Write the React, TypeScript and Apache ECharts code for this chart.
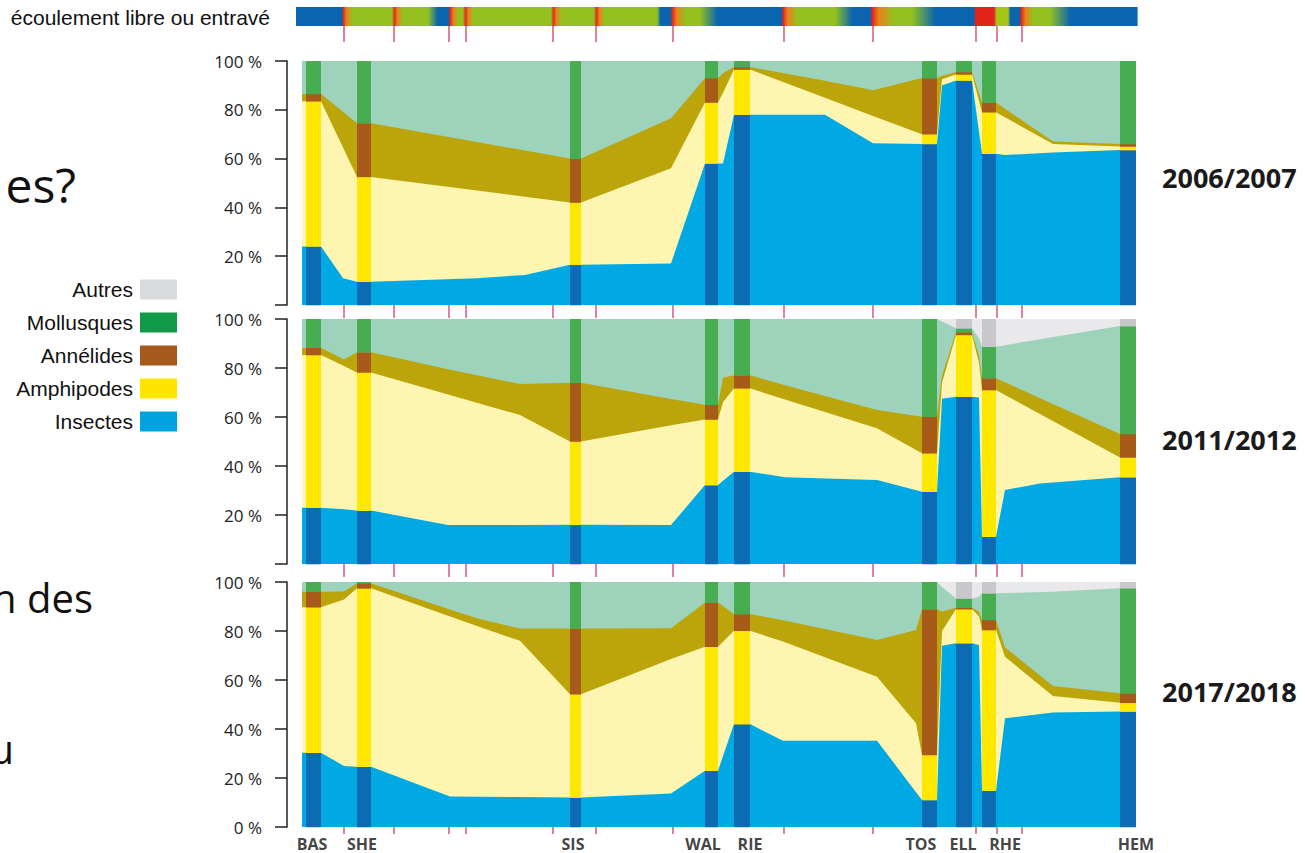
import React, { useEffect, useRef } from 'react';
import * as echarts from 'echarts';

// ---- stations along the river (position units along the axis) ----
const stations = ['BAS', 'SHE', 'SIS', 'WAL', 'RIE', 'TOS', 'ELL', 'RHE', 'HEM'];
const stationFrom = [4, 55, 268, 403, 432, 620, 654, 680, 818];
const stationTo = [19, 69, 279, 416, 448, 635, 670, 694, 834];
const stationLabelAt = [10, 60, 271, 401, 448, 619, 661, 703, 834];
const barriers = [42, 92, 147, 164, 251, 294, 371, 482, 571, 674, 695, 720];

const groups = ['Insectes', 'Amphipodes', 'Annélides', 'Mollusques', 'Autres'];
const areaColors = ['#00a8e4', '#fdf5b0', '#bba50b', '#9dd2bb', '#e9e9eb'];
const barColors = ['#0b6cb4', '#ffe800', '#a85a18', '#48ad50', '#c8c8cb'];
const legendOrder = ['Autres', 'Mollusques', 'Annélides', 'Amphipodes', 'Insectes'];
const legendColors = ['#d9dadc', '#12994a', '#a65b1d', '#ffe600', '#00a3e0'];
const years = ['2006/2007', '2011/2012', '2017/2018'];

// ---- 2006/2007: shares (%) at stations ----
const ins2006 = [24, 9.5, 16.5, 58, 78, 66, 92, 62, 63.5];
const amph2006 = [59.5, 43, 25.5, 25, 18.5, 4, 2.5, 17, 1.5];
const ann2006 = [3, 22, 18, 10, 1, 23, 1, 4, 1];
const moll2006 = [13.5, 25.5, 40, 7, 2.5, 7, 4.5, 17, 34];
const autres2006 = [0, 0, 0, 0, 0, 0, 0, 0, 0];
// between stations
const mid2006X = [0, 41, 175, 223, 369, 421, 523, 571, 640, 703, 751];
const mid2006Ins = [24, 11, 11, 12.3, 17, 58, 78, 66.3, 90, 61.5, 62.5];
const mid2006Amph = [59.5, 53.6, 35.9, 32.1, 39, 29, 6.9, 11.2, 2.5, 15.4, 3.5];
const mid2006Ann = [3, 14.6, 19.9, 18.9, 20.5, 8, 7, 10.5, 1.5, 3.5, 1];
const mid2006Moll = [13.5, 20.8, 33.2, 36.7, 23.5, 5, 8.1, 12, 6, 19.6, 33];
const mid2006Autres = [0, 0, 0, 0, 0, 0, 0, 0, 0, 0, 0];

// ---- 2011/2012 ----
const ins2011 = [23, 21.8, 16, 32.2, 37.7, 29.5, 68.3, 11.1, 35.4];
const amph2011 = [62.3, 56.4, 34, 26.8, 34, 15.7, 25.2, 59.9, 8.1];
const ann2011 = [3, 8.2, 24, 6, 5.3, 14.9, 1.1, 4.8, 9.6];
const moll2011 = [11.7, 13.6, 26, 35, 23, 39.9, 1.6, 12.9, 44];
const autres2011 = [0, 0, 0, 0, 0, 0, 3.8, 11.3, 2.9];
const mid2011X = [0, 42, 146, 218, 369, 421, 483, 575, 640, 677, 703, 738];
const mid2011Ins = [23, 22.3, 15.9, 15.9, 15.9, 34, 35.4, 34.3, 67.5, 68, 30.2, 32.9];
const mid2011Amph = [62.3, 58.5, 53.3, 44.9, 40.7, 32, 31.7, 21.1, 6.5, 14, 38.8, 28.3];
const mid2011Ann = [2.7, 2.7, 10.3, 12.7, 10.7, 10, 5.9, 7.5, 3, 3, 5.2, 6.5];
const mid2011Moll = [12, 16.5, 20.5, 26.5, 32.7, 24, 27, 37.1, 22, 7, 15.1, 24];
const mid2011Autres = [0, 0, 0, 0, 0, 0, 0, 0, 1, 8, 10.7, 8.3];

// ---- 2017/2018 ----
const ins2017 = [30.3, 24.6, 12, 23, 42, 11, 75, 14.8, 47.1];
const amph2017 = [59.4, 72.8, 42.2, 50.6, 38.1, 18.4, 13.9, 65.6, 3.6];
const ann2017 = [6.3, 2.1, 26.8, 18, 6.8, 59.5, 0.6, 4.1, 3.9];
const moll2017 = [4, 0.5, 19, 8.4, 13.1, 11.1, 3.8, 10.9, 42.9];
const autres2017 = [0, 0, 0, 0, 0, 0, 6.7, 4.6, 2.5];
const mid2017X = [0, 42, 148, 175, 218, 369, 481, 575, 614, 640, 677, 703, 751];
const mid2017Ins = [30.3, 24.9, 12.4, 12.3, 12.2, 13.7, 35.2, 35.2, 14.2, 74, 74.3, 44.4, 46.7];
const mid2017Amph = [59.4, 68, 73.5, 69.7, 63.8, 54.9, 40.5, 26.1, 28.1, 6, 11.7, 25.1, 6.8];
const mid2017Ann = [6.4, 3.2, 2.9, 3.2, 5, 12.5, 8.7, 15, 38.1, 8, 2, 3.8, 4.1];
const mid2017Moll = [3.9, 3.9, 11.2, 14.8, 19, 18.9, 15.6, 23.7, 19.6, 10, 6, 22.2, 38.4];
const mid2017Autres = [0, 0, 0, 0, 0, 0, 0, 0, 0, 2, 6, 4.5, 4];

// ---- flow strip (free / obstructed flow) colour stops ----
const stripStopX = [-6, 40, 41, 44, 50, 90, 92, 95, 100, 126, 135, 146, 148, 151, 156, 161, 163, 166, 171,
  249, 251, 254, 259, 292, 294, 297, 302, 355, 358, 368, 370, 374, 383, 398, 415, 479, 481, 485, 495, 533,
  550, 568, 570, 576, 591, 610, 633, 672, 673, 692, 694, 706, 708, 717, 719, 723, 731, 748, 768, 835];
const B = '#0a64b0', G = '#94c11f', R = '#e2231a', O = '#ee7d1c', Y = '#a8c515';
const stripStopColor = [B, B, R, O, G, G, R, O, G, G, B, B, R, O, G, G, R, O, G,
  G, R, O, G, G, R, O, G, G, B, B, R, O, G, G, B, B, R, O, G, G,
  B, B, R, O, G, G, B, B, R, R, Y, Y, B, B, R, O, G, G, B, B];

const panels = [
  { st: [ins2006, amph2006, ann2006, moll2006, autres2006], midX: mid2006X, mid: [mid2006Ins, mid2006Amph, mid2006Ann, mid2006Moll, mid2006Autres] },
  { st: [ins2011, amph2011, ann2011, moll2011, autres2011], midX: mid2011X, mid: [mid2011Ins, mid2011Amph, mid2011Ann, mid2011Moll, mid2011Autres] },
  { st: [ins2017, amph2017, ann2017, moll2017, autres2017], midX: mid2017X, mid: [mid2017Ins, mid2017Amph, mid2017Ann, mid2017Moll, mid2017Autres] },
];

const gridTops = [61, 319, 582];
const gridHeights = [244, 245, 245];
const tickLens = [13, 13, 7];
const yearY = [177, 439, 691];
const FONT = '"Open Sans", "Noto Sans", sans-serif';
const ARIAL = '"Liberation Sans", Arial, sans-serif';

function buildRows(p: any) {
  const rows: { x: number; v: number[] }[] = [];
  stations.forEach((_, i) => {
    const v = p.st.map((a: number[]) => a[i]);
    rows.push({ x: stationFrom[i], v });
    rows.push({ x: stationTo[i], v });
  });
  p.midX.forEach((x: number, j: number) => {
    rows.push({ x, v: p.mid.map((a: number[]) => a[j]) });
  });
  rows.sort((a, b) => a.x - b.x);
  return rows;
}

function cumulative(v: number[], k: number) {
  let s = 0;
  for (let j = 0; j <= k; j++) s += v[j];
  return Math.min(100, s);
}

function buildBars(p: any) {
  const out: number[][] = [];
  stations.forEach((_, i) => {
    let base = 0;
    for (let k = 0; k < 5; k++) {
      const s = p.st[k][i];
      if (s > 0) out.push([stationFrom[i], stationTo[i], base, Math.min(100, base + s), k]);
      base += s;
    }
  });
  return out;
}

const barRender = (params: any, api: any) => {
  const a = api.coord([api.value(0), api.value(3)]);
  const b = api.coord([api.value(1), api.value(2)]);
  return {
    type: 'rect',
    shape: { x: a[0], y: a[1], width: b[0] - a[0], height: b[1] - a[1] + 0.3 },
    style: { fill: barColors[api.value(4)] },
  };
};

const tickRender = (len: number) => (params: any, api: any) => {
  const p = api.coord([api.value(0), 0]);
  return {
    type: 'line',
    shape: { x1: p[0], y1: p[1], x2: p[0], y2: p[1] + len },
    style: { stroke: '#cc4262', lineWidth: 1.3 },
  };
};

export default function App() {
  const ref = useRef<HTMLDivElement>(null);
  useEffect(() => {
    if (!ref.current) return;
    const chart = echarts.init(ref.current, null, { renderer: 'svg' });

    const grid: any[] = gridTops.map((t, i) => ({ left: 302, right: 168, top: t, height: gridHeights[i] }));
    grid.push({ left: 296, right: 168, top: 7, height: 19 });

    const xAxis: any[] = [0, 1, 2].map((i) => ({ gridIndex: i, type: 'value', min: 0, max: 835, show: false }));
    xAxis.push({ gridIndex: 3, type: 'value', min: -6, max: 835, show: false });

    const yAxis: any[] = [0, 1, 2].map((i) => ({
      gridIndex: i,
      type: 'value',
      min: 0,
      max: 100,
      interval: 20,
      offset: 15,
      axisLine: { show: true, onZero: false, lineStyle: { color: '#222', width: 1.5 } },
      axisTick: { show: true, length: 12, lineStyle: { color: '#222', width: 1.5 } },
      axisLabel: {
        margin: 25,
        color: '#222',
        fontSize: 17,
        fontFamily: FONT,
        formatter: (v: number) => (i < 2 && v === 0 ? '' : v + ' %'),
      },
      splitLine: { show: false },
    }));
    yAxis.push({ gridIndex: 3, type: 'value', min: 0, max: 1, show: false });

    const series: any[] = [];
    panels.forEach((p, pi) => {
      const rows = buildRows(p);
      // draw the cumulative bands from the top group down, each one over the previous
      for (let k = 4; k >= 0; k--) {
        series.push({
          type: 'line',
          name: groups[k],
          xAxisIndex: pi,
          yAxisIndex: pi,
          data: rows.map((r) => [r.x, cumulative(r.v, k)]),
          symbol: 'none',
          showSymbol: false,
          lineStyle: { width: 0 },
          itemStyle: { color: areaColors[k] },
          areaStyle: { color: areaColors[k], opacity: 1, origin: 'start' },
          silent: true,
          z: 2,
        });
      }
      series.push({
        type: 'custom',
        xAxisIndex: pi,
        yAxisIndex: pi,
        data: buildBars(p),
        encode: { x: [0, 1], y: [2, 3] },
        renderItem: barRender,
        silent: true,
        z: 3,
      });
      series.push({
        type: 'custom',
        xAxisIndex: pi,
        yAxisIndex: pi,
        data: barriers.map((b) => [b]),
        encode: { x: 0 },
        renderItem: tickRender(tickLens[pi]),
        silent: true,
        z: 4,
      });
    });

    // flow strip
    series.push({
      type: 'custom',
      xAxisIndex: 3,
      yAxisIndex: 3,
      data: stripStopX.slice(0, -1).map((x, i) => [x, stripStopX[i + 1], i]),
      encode: { x: [0, 1] },
      renderItem: (params: any, api: any) => {
        const i = api.value(2);
        const a = api.coord([api.value(0), 1]);
        const b = api.coord([api.value(1), 0]);
        return {
          type: 'rect',
          shape: { x: a[0], y: a[1], width: b[0] - a[0] + 0.6, height: b[1] - a[1] },
          style: {
            fill: new echarts.graphic.LinearGradient(0, 0, 1, 0, [
              { offset: 0, color: stripStopColor[i] },
              { offset: 1, color: stripStopColor[i + 1] },
            ]),
          },
        };
      },
      silent: true,
    });
    series.push({
      type: 'custom',
      xAxisIndex: 3,
      yAxisIndex: 3,
      data: barriers.map((b) => [b]),
      encode: { x: 0 },
      renderItem: tickRender(16),
      silent: true,
    });

    // station labels
    series.push({
      type: 'scatter',
      xAxisIndex: 2,
      yAxisIndex: 2,
      data: stations.map((s, i) => ({ name: s, value: [stationLabelAt[i], 0] })),
      symbolSize: 1,
      itemStyle: { color: 'rgba(0,0,0,0)' },
      clip: false,
      silent: true,
      label: {
        show: true,
        position: 'bottom',
        distance: 8,
        formatter: '{b}',
        color: '#111',
        fontSize: 16,
        fontWeight: 'bold',
        fontFamily: FONT,
      },
      z: 5,
    });

    const graphic: any[] = [
      {
        type: 'text',
        x: 270,
        y: 17,
        style: { text: 'écoulement libre ou entravé', fill: '#111', fontSize: 21, fontFamily: ARIAL, align: 'right', verticalAlign: 'middle' },
      },
      { type: 'text', x: 76, y: 184, style: { text: 'es?', fill: '#111', fontSize: 48, fontFamily: FONT, align: 'right', verticalAlign: 'middle' } },
      { type: 'text', x: 93, y: 597, style: { text: 'n des', fill: '#111', fontSize: 40, fontFamily: FONT, align: 'right', verticalAlign: 'middle' } },
      { type: 'text', x: 14, y: 748, style: { text: 'u', fill: '#111', fontSize: 40, fontFamily: FONT, align: 'right', verticalAlign: 'middle' } },
    ];
    years.forEach((yr, i) => {
      graphic.push({
        type: 'text',
        x: 1162,
        y: yearY[i],
        style: { text: yr, fill: '#1a1a1a', fontSize: 27, fontWeight: 'bold', fontFamily: FONT, verticalAlign: 'middle' },
      });
    });

    chart.setOption({
      animation: false,
      backgroundColor: '#ffffff',
      grid,
      xAxis,
      yAxis,
      legend: {
        orient: 'vertical',
        right: 1123,
        top: 274,
        align: 'right',
        icon: 'rect',
        itemWidth: 37,
        itemHeight: 20,
        itemGap: 12,
        selectedMode: false,
        itemStyle: { borderWidth: 0 },
        textStyle: { fontSize: 21, lineHeight: 21, color: '#111', fontFamily: ARIAL, padding: [0, 2, 0, 0] },
        data: legendOrder.map((n, i) => ({ name: n, itemStyle: { color: legendColors[i] } })),
      },
      graphic,
      series,
    });
    return () => chart.dispose();
  }, []);
  return <div ref={ref} style={{ position: 'fixed', left: 0, top: 0, width: 1305, height: 853 }} />;
}
